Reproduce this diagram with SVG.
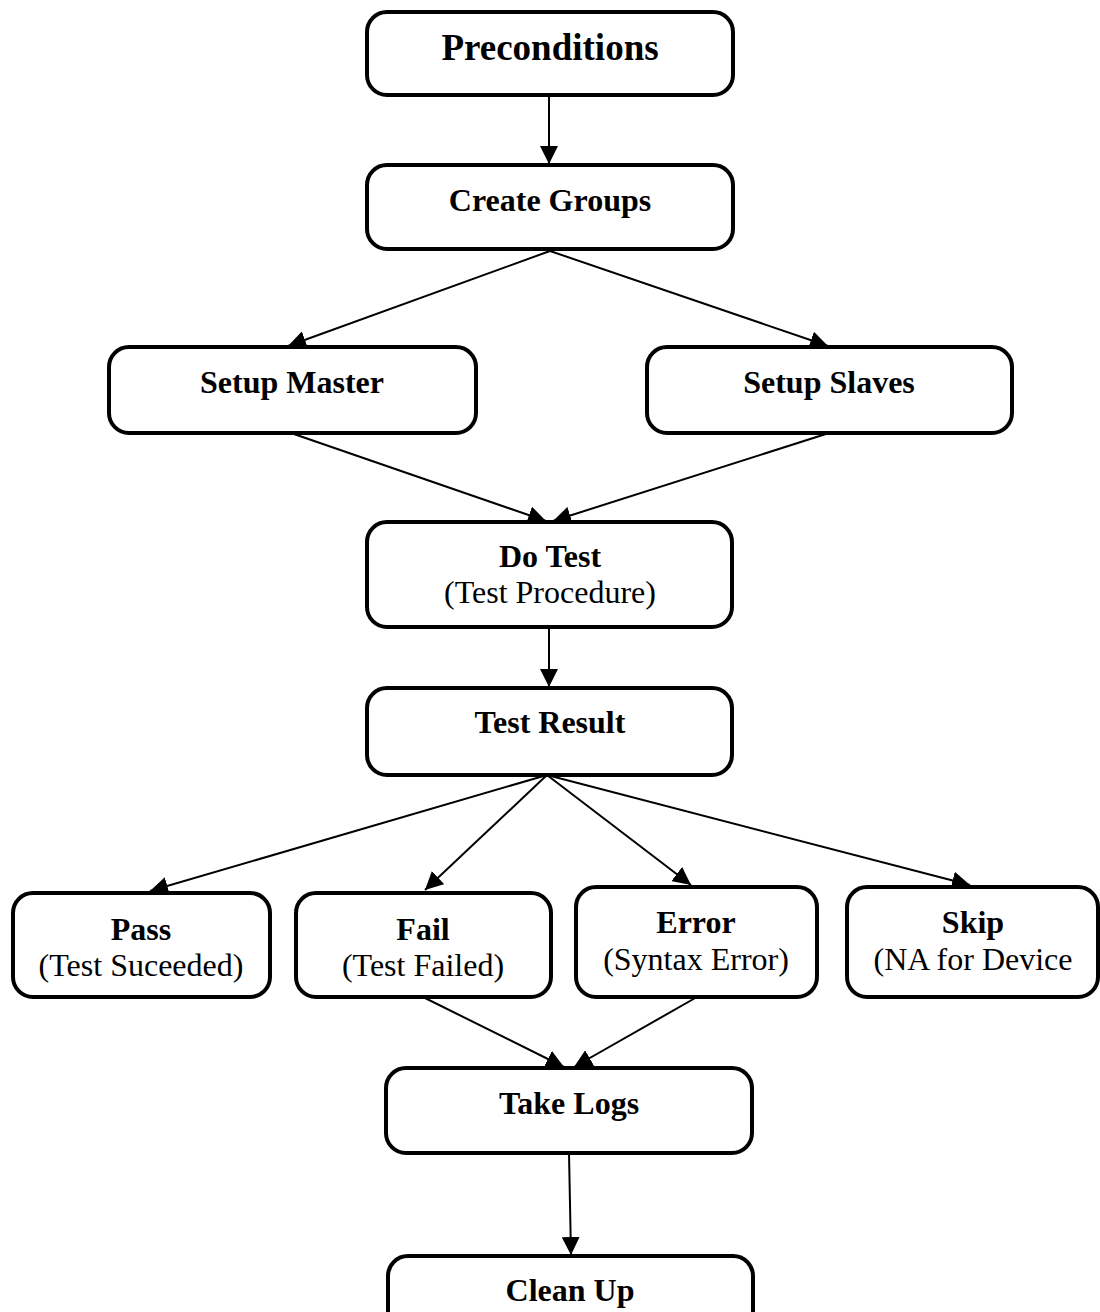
<svg xmlns="http://www.w3.org/2000/svg" width="1100" height="1312" viewBox="0 0 1100 1312">
  <style>
    .box { fill: #ffffff; stroke: #000000; stroke-width: 4; }
    .title { font-family: "Liberation Serif", "Times New Roman", serif; font-weight: bold; font-size: 32px; fill: #000000; text-anchor: middle; }
    .big { font-size: 37px; }
    .sub { font-family: "Liberation Serif", "Times New Roman", serif; font-size: 32px; fill: #000000; text-anchor: middle; }
    .edge { fill: none; stroke: #000000; stroke-width: 2; marker-end: url(#arrow); }
  </style>
  <defs>
    <marker id="arrow" markerUnits="userSpaceOnUse" markerWidth="18" markerHeight="18" viewBox="0 0 16 16" refX="16" refY="8" orient="auto">
      <path d="M0,0 L16,8 L0,16 Z" fill="#000000"/>
    </marker>
  </defs>
  <rect width="1100" height="1312" fill="#ffffff"/>

  <!-- connectors -->
  <g id="connectors">
    <line class="edge" x1="549" y1="95" x2="549" y2="164"/>
    <line class="edge" x1="550" y1="251" x2="288" y2="346"/>
    <line class="edge" x1="550" y1="251" x2="828" y2="346"/>
    <line class="edge" x1="291" y1="433" x2="546" y2="521"/>
    <line class="edge" x1="829" y1="433" x2="553" y2="521"/>
    <line class="edge" x1="549" y1="627" x2="549" y2="687"/>
    <line class="edge" x1="547" y1="775" x2="150" y2="891"/>
    <line class="edge" x1="547" y1="775" x2="425" y2="890"/>
    <line class="edge" x1="547" y1="775" x2="691" y2="885"/>
    <line class="edge" x1="547" y1="775" x2="970" y2="885"/>
    <line class="edge" x1="423" y1="997" x2="564" y2="1067"/>
    <line class="edge" x1="697" y1="997" x2="574" y2="1067"/>
    <line class="edge" x1="569" y1="1153" x2="571" y2="1255"/>
  </g>

  <!-- nodes -->
  <g id="preconditions">
    <rect class="box" x="367" y="12" width="366" height="83" rx="20"/>
    <text class="title big" x="550" y="60">Preconditions</text>
  </g>
  <g id="create-groups">
    <rect class="box" x="367" y="165" width="366" height="84" rx="20"/>
    <text class="title" x="550" y="211">Create Groups</text>
  </g>
  <g id="setup-master">
    <rect class="box" x="109" y="347" width="367" height="86" rx="20"/>
    <text class="title" x="292" y="393">Setup Master</text>
  </g>
  <g id="setup-slaves">
    <rect class="box" x="647" y="347" width="365" height="86" rx="20"/>
    <text class="title" x="829" y="393">Setup Slaves</text>
  </g>
  <g id="do-test">
    <rect class="box" x="367" y="522" width="365" height="105" rx="20"/>
    <text class="title" x="550" y="567">Do Test</text>
    <text class="sub" x="550" y="603">(Test Procedure)</text>
  </g>
  <g id="test-result">
    <rect class="box" x="367" y="688" width="365" height="87" rx="20"/>
    <text class="title" x="550" y="733">Test Result</text>
  </g>
  <g id="pass">
    <rect class="box" x="13" y="893" width="257" height="104" rx="20"/>
    <text class="title" x="141" y="940">Pass</text>
    <text class="sub" x="141" y="976">(Test Suceeded)</text>
  </g>
  <g id="fail">
    <rect class="box" x="296" y="893" width="255" height="104" rx="20"/>
    <text class="title" x="423" y="940">Fail</text>
    <text class="sub" x="423" y="976">(Test Failed)</text>
  </g>
  <g id="error">
    <rect class="box" x="576" y="887" width="241" height="110" rx="20"/>
    <text class="title" x="696" y="933">Error</text>
    <text class="sub" x="696" y="970">(Syntax Error)</text>
  </g>
  <g id="skip">
    <rect class="box" x="847" y="887" width="251" height="110" rx="20"/>
    <text class="title" x="973" y="933">Skip</text>
    <text class="sub" x="973" y="970">(NA for Device</text>
  </g>
  <g id="take-logs">
    <rect class="box" x="386" y="1068" width="366" height="85" rx="20"/>
    <text class="title" x="569" y="1114">Take Logs</text>
  </g>
  <g id="clean-up">
    <rect class="box" x="388" y="1256" width="365" height="90" rx="20"/>
    <text class="title" x="570" y="1301">Clean Up</text>
  </g>
</svg>
